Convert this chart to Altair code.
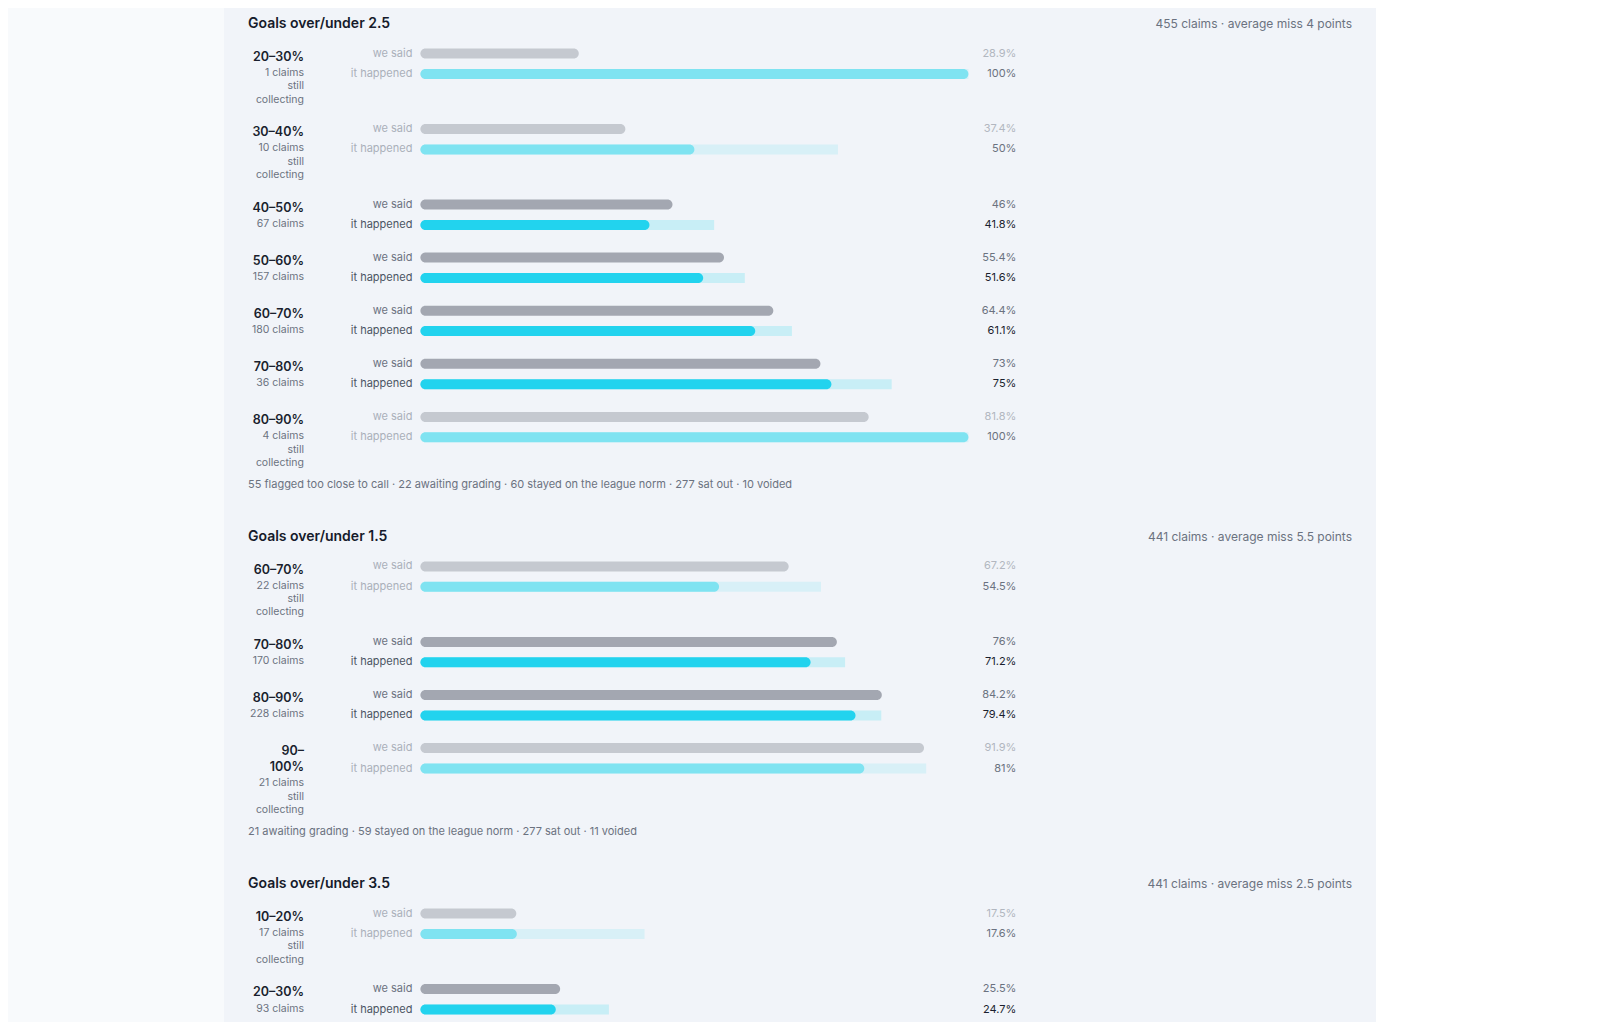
"""
Calibration panels: what we said vs what happened, per probability bin,
for the goals over/under markets.
"""

import altair as alt
import pandas as pd

# ---- data -------------------------------------------------------------
markets = ["Goals over/under 2.5", "Goals over/under 1.5", "Goals over/under 3.5"]
headers = [
    "455 claims · average miss 4 points",
    "441 claims · average miss 5.5 points",
    "441 claims · average miss 2.5 points",
]
footers = [
    "55 flagged too close to call · 22 awaiting grading · 60 stayed on the league norm · 277 sat out · 10 voided",
    "21 awaiting grading · 59 stayed on the league norm · 277 sat out · 11 voided",
    "",
]

row_market = [0, 0, 0, 0, 0, 0, 0, 1, 1, 1, 1, 2, 2]
bins = ["20–30%", "30–40%", "40–50%", "50–60%", "60–70%", "70–80%", "80–90%",
        "60–70%", "70–80%", "80–90%", "90–100%", "10–20%", "20–30%"]
claims = [1, 10, 67, 157, 180, 36, 4, 22, 170, 228, 21, 17, 93]
we_said = [28.9, 37.4, 46, 55.4, 64.4, 73, 81.8, 67.2, 76, 84.2, 91.9, 17.5, 25.5]
happened = [100, 50, 41.8, 51.6, 61.1, 75, 100, 54.5, 71.2, 79.4, 81, 17.6, 24.7]
upper = [100, 76.2, 53.6, 59.2, 67.8, 86.0, 100, 73.1, 77.5, 84.1, 92.3, 40.9, 34.4]
collecting = [True, True, False, False, False, False, True,
              True, False, False, True, True, False]

# ---- layout (pixels) --------------------------------------------------
W, H = 1152, 1014
BAR0, PX_PER_PCT = 196.4, 5.48          # where 0% sits, and px per point
X_DOMAIN = [-BAR0 / PX_PER_PCT, (W - BAR0) / PX_PER_PCT]
FONT = "Inter"


def fmt(v):
    return f"{v:g}%"


def wrap_bin(label):
    # the label column is narrow: "90–100%" breaks after the dash
    if len(label) > 6:
        a, b = label.split("–")
        return [a + "–", b]
    return [label]


bars, texts, heads = [], [], []
y = 15.9
for m in range(len(markets)):
    heads.append(dict(y=y, title=markets[m], header=headers[m], kind="title"))
    bar1 = y + 29.6
    last_pitch = 0
    for i in [k for k, mm in enumerate(row_market) if mm == m]:
        tone = "dim" if collecting[i] else "full"
        bar2 = bar1 + 20.4
        bars += [
            dict(y=bar1, x0=0, x1=we_said[i], c=f"said_{tone}", layer="main"),
            dict(y=bar2, x0=0, x1=upper[i], c=f"band_{tone}", layer="band"),
            dict(y=bar2, x0=0, x1=happened[i], c=f"hap_{tone}", layer="main"),
        ]
        texts += [
            dict(y=bar1, t="we said", pct=fmt(we_said[i]), c=f"said_{tone}"),
            dict(y=bar2, t="it happened", pct=fmt(happened[i]), c=f"hap_{tone}"),
        ]
        bold = wrap_bin(bins[i])
        small = [f"{claims[i]} claims"] + (["still", "collecting"] if collecting[i] else [])
        ly = bar1 + 3.1
        for j, line in enumerate(bold):
            if j:
                ly += 15.8
            heads.append(dict(y=ly, title=line, header="", kind="bin"))
        for line in small:
            ly += 16.3 if line == small[0] else 13.3
            heads.append(dict(y=ly, title=line, header="", kind="small"))
        last_pitch = max(53.1, 19.6 + 16 * len(bold) + 13.3 * len(small))
        bar1 += last_pitch
    foot = bar1 - 7.4
    heads.append(dict(y=foot, title=footers[m], header="", kind="foot"))
    y = foot + 51.8

bars = pd.DataFrame(bars)
bars["y0"] = bars["y"] - 5
bars["y1"] = bars["y"] + 5
texts = pd.DataFrame(texts)
heads = pd.DataFrame(heads)

xs = alt.Scale(domain=X_DOMAIN, nice=False, zero=False)
ys = alt.Scale(domain=[0, H], reverse=True, nice=False, zero=False)
no_axis = dict(axis=None)

bar_colors = alt.Scale(
    domain=["said_full", "hap_full", "band_full", "said_dim", "hap_dim", "band_dim"],
    range=["#a3a7b1", "#22d3ee", "#c8eef6", "#c5c9d0", "#7fe3f1", "#d8f0f7"],
)

band = alt.Chart(bars[bars.layer == "band"]).mark_rect(
    cornerRadiusTopLeft=5, cornerRadiusBottomLeft=5
).encode(
    x=alt.X("x0:Q", scale=xs, **no_axis), x2="x1:Q",
    y=alt.Y("y0:Q", scale=ys, **no_axis), y2="y1:Q",
    color=alt.Color("c:N", scale=bar_colors, legend=None),
)

main = alt.Chart(bars[bars.layer == "main"]).mark_rect(cornerRadius=5).encode(
    x=alt.X("x0:Q", scale=xs, **no_axis), x2="x1:Q",
    y=alt.Y("y0:Q", scale=ys, **no_axis), y2="y1:Q",
    color=alt.Color("c:N", scale=bar_colors, legend=None),
)

# "we said" / "it happened" to the left of the bars
series_label = alt.Chart(texts).mark_text(
    align="right", baseline="middle", dx=-8, font=FONT, fontSize=11
).encode(
    x=alt.datum(0, scale=xs),
    y=alt.Y("y:Q", scale=ys, **no_axis),
    text="t:N",
    color=alt.Color("c:N", legend=None, scale=alt.Scale(
        domain=["said_full", "hap_full", "said_dim", "hap_dim"],
        range=["#6b7280", "#4b5563", "#aab0ba", "#aab0ba"])),
)

pct_label = alt.Chart(texts).mark_text(
    align="right", baseline="middle", dx=48, font=FONT, fontSize=11
).encode(
    x=alt.datum(100, scale=xs),
    y=alt.Y("y:Q", scale=ys, **no_axis),
    text="pct:N",
    color=alt.Color("c:N", legend=None, scale=alt.Scale(
        domain=["said_full", "hap_full", "said_dim", "hap_dim"],
        range=["#6b7280", "#1a1f2e", "#b2b7c0", "#6b7280"])),
)

heads_base = alt.Chart(heads)

title = heads_base.transform_filter("datum.kind == 'title'").mark_text(
    align="left", baseline="middle", font=FONT, fontSize=14, fontWeight=600,
    color="#161b2b"
).encode(x=alt.value(24), y=alt.Y("y:Q", scale=ys, **no_axis), text="title:N")

header = heads_base.transform_filter("datum.kind == 'title'").mark_text(
    align="right", baseline="middle", font=FONT, fontSize=12, color="#6b7280"
).encode(x=alt.value(W - 24), y=alt.Y("y:Q", scale=ys, **no_axis), text="header:N")

bin_label = heads_base.transform_filter("datum.kind == 'bin'").mark_text(
    align="right", baseline="middle", font=FONT, fontSize=12.5, fontWeight=600,
    color="#1a1f2e"
).encode(x=alt.value(80), y=alt.Y("y:Q", scale=ys, **no_axis), text="title:N")

small_label = heads_base.transform_filter("datum.kind == 'small'").mark_text(
    align="right", baseline="middle", font=FONT, fontSize=10.5, color="#6b7280"
).encode(x=alt.value(80), y=alt.Y("y:Q", scale=ys, **no_axis), text="title:N")

footer = heads_base.transform_filter("datum.kind == 'foot'").mark_text(
    align="left", baseline="middle", font=FONT, fontSize=11, color="#6b7280"
).encode(x=alt.value(24), y=alt.Y("y:Q", scale=ys, **no_axis), text="title:N")

chart = alt.layer(
    band, main, series_label, pct_label, title, header, bin_label, small_label, footer
).resolve_scale(color="independent").properties(
    width=W, height=H,
    background="#f8fafc",
    padding={"left": 216, "top": 0, "right": 0, "bottom": 0},
).configure_view(fill="#f1f4f9", stroke=None)

chart.save("out.html", embed_options={"renderer": "svg", "actions": False})
